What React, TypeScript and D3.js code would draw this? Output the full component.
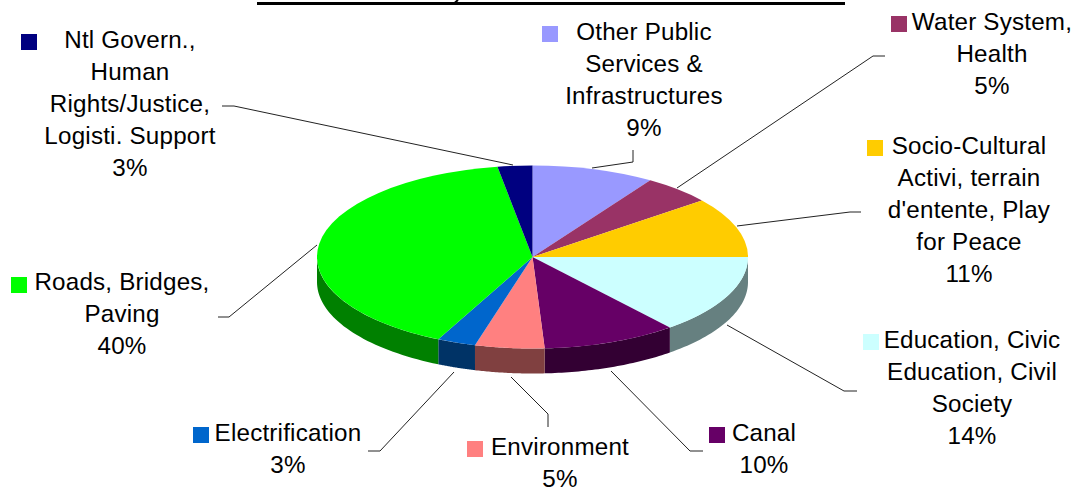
import React from "react";
import * as d3 from "d3";

const categories = [
  "Other Public Services & Infrastructures",
  "Water System, Health",
  "Socio-Cultural Activi, terrain d'entente, Play for Peace",
  "Education, Civic Education, Civil Society",
  "Canal",
  "Environment",
  "Electrification",
  "Roads, Bridges, Paving",
  "Ntl Govern., Human Rights/Justice, Logisti. Support",
];
// shares as read from the slice edges, the printed labels round these
const values = [9.2, 5.2, 10.6, 14, 10.1, 5.2, 2.9, 40.2, 2.6];
const percentLabels = ["9%", "5%", "11%", "14%", "10%", "5%", "3%", "40%", "3%"];
const colors = ["#9999ff", "#993366", "#ffcc00", "#ccffff", "#660066", "#ff8080", "#0066cc", "#00ff00", "#000080"];

const labelLines = [
  ["Other Public", "Services &", "Infrastructures"],
  ["Water System,", "Health"],
  ["Socio-Cultural", "Activi, terrain", "d'entente, Play", "for Peace"],
  ["Education, Civic", "Education, Civil", "Society"],
  ["Canal"],
  ["Environment"],
  ["Electrification"],
  ["Roads, Bridges,", "Paving"],
  ["Ntl Govern.,", "Human", "Rights/Justice,", "Logisti. Support"],
];

// layout of the data labels: text centre, first baseline, legend key, leader line
const labelLayout = [
  { cx: 644, y: 40, key: [542, 26], leader: [[633, 150], [633, 162], [592, 168]] },
  { cx: 992, y: 30, key: [891, 16], leader: [[885, 56], [873, 56], [677, 188]] },
  { cx: 969, y: 154, key: [867, 140], leader: [[861, 212], [850, 212], [737, 226]] },
  { cx: 972, y: 348, key: [863, 334], leader: [[857, 391], [844, 391], [727, 325]] },
  { cx: 764, y: 441, key: [709, 427], leader: [[703, 451], [690, 451], [611, 371]] },
  { cx: 560, y: 455, key: [467, 441], leader: [[548, 427], [548, 414], [511, 377]] },
  { cx: 288, y: 441, key: [193, 427], leader: [[368, 451], [380, 451], [454, 372]] },
  { cx: 122, y: 290, key: [11, 277], leader: [[218, 317], [229, 317], [317, 245]] },
  { cx: 130, y: 48, key: [21, 34], leader: [[222, 106], [234, 106], [513, 165]] },
];

const width = 1085;
const height = 487;
const cx = 532.5;
const cy = 257;
const rx = 215.5;
const ry = 91.5;
const depth = 25;
const lineHeight = 32;

const App: React.FC = () => {
  const arcs = d3.pie<number>().sort(null).value((d) => d)(values);
  const arc = d3.arc<d3.PieArcDatum<number>>().innerRadius(0).outerRadius(rx);

  // outer wall of the pie, only the front half of the ellipse shows
  const wall = d3
    .area<number>()
    .x((a) => cx + rx * Math.sin(a))
    .y0((a) => cy - ry * Math.cos(a))
    .y1((a) => cy - ry * Math.cos(a) + depth);

  const darken = (c: string) => {
    const rgb = d3.rgb(c);
    return d3.rgb(rgb.r * 0.5, rgb.g * 0.5, rgb.b * 0.5).formatHex();
  };

  const leaderLine = d3.line();

  return (
    <svg
      width={width}
      height={height}
      viewBox={`0 0 ${width} ${height}`}
      style={{ position: "fixed", left: 0, top: 0, background: "#fff" }}
      fontFamily="'Liberation Sans', Arial, sans-serif"
      fontSize={24.2}
      letterSpacing={0.2}
    >
      {/* underline of the title, which is cut off by the top of the picture */}
      <rect x={257} y={2} width={588} height={3} fill="#000" />
      <path d="M455,2.5L458,0" stroke="#000" strokeWidth={2} fill="none" />

      {arcs.map((d, i) => {
        const start = Math.max(d.startAngle, Math.PI / 2);
        const end = Math.min(d.endAngle, (3 * Math.PI) / 2);
        if (end <= start) return null;
        const steps = d3.range(0, 41).map((k) => start + ((end - start) * k) / 40);
        return <path key={i} d={wall(steps) ?? ""} fill={darken(colors[i])} />;
      })}

      <g transform={`translate(${cx},${cy}) scale(1,${ry / rx})`}>
        {arcs.map((d, i) => (
          <path key={categories[i]} d={arc(d) ?? ""} fill={colors[i]} />
        ))}
      </g>

      {labelLayout.map((l, i) => (
        <path
          key={i}
          d={leaderLine(l.leader as [number, number][]) ?? ""}
          fill="none"
          stroke="#222"
          strokeWidth={1}
        />
      ))}

      {labelLayout.map((l, i) => (
        <g key={i}>
          <rect x={l.key[0]} y={l.key[1]} width={16} height={16} fill={colors[i]} />
          <text textAnchor="middle" fill="#000">
            {[...labelLines[i], percentLabels[i]].map((t, j) => (
              <tspan key={j} x={l.cx} y={l.y + j * lineHeight}>
                {t}
              </tspan>
            ))}
          </text>
        </g>
      ))}
    </svg>
  );
};

export default App;
